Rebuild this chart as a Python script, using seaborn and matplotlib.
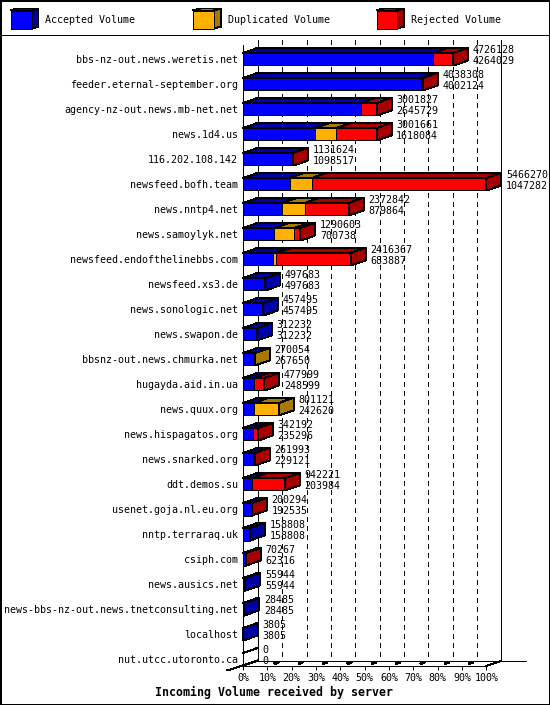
import pandas as pd
import numpy as np
import matplotlib
matplotlib.use("Agg")
import matplotlib.pyplot as plt
import seaborn as sns

# data
servers = ["bbs-nz-out.news.weretis.net", "feeder.eternal-september.org", "agency-nz-out.news.mb-net.net",
           "news.1d4.us", "116.202.108.142", "newsfeed.bofh.team", "news.nntp4.net", "news.samoylyk.net",
           "newsfeed.endofthelinebbs.com", "newsfeed.xs3.de", "news.sonologic.net", "news.swapon.de",
           "bbsnz-out.news.chmurka.net", "hugayda.aid.in.ua", "news.quux.org", "news.hispagatos.org",
           "news.snarked.org", "ddt.demos.su", "usenet.goja.nl.eu.org", "nntp.terraraq.uk", "csiph.com",
           "news.ausics.net", "news-bbs-nz-out.news.tnetconsulting.net", "localhost", "nut.utcc.utoronto.ca"]
total = [4726128, 4038308, 3001827, 3001661, 1131624, 5466270, 2372842, 1290603, 2416367, 497683, 457495, 312232,
         270054, 477999, 801121, 342192, 261993, 942221, 200294, 158808, 70267, 55944, 28485, 3805, 0]
accepted = [4264029, 4002124, 2645729, 1618084, 1098517, 1047282, 879864, 700738, 683887, 497683, 457495, 312232,
            267650, 248599, 242620, 235296, 229121, 203984, 192535, 158808, 62316, 55944, 28485, 3805, 0]
duplicated = [0, 0, 0, 477000, 0, 495000, 505000, 452000, 65000, 0, 0, 0,
              2404, 0, 558501, 0, 0, 0, 0, 0, 0, 0, 0, 0, 0]

tick_pct = list(range(0, 101, 10))
legend_names = ["Accepted Volume", "Duplicated Volume", "Rejected Volume"]

BLUE, ORANGE, RED = "#0000ff", "#ffb000", "#ff0000"
DBLUE, DORANGE, DRED = "#0000a8", "#a87800", "#a80000"
LW = 0.72  # one pixel at 100 dpi

sns.set_style("white")
plt.rcParams["font.family"] = "DejaVu Sans Mono"
plt.rcParams["font.size"] = 7.2

df = pd.DataFrame({"server": servers, "total": total, "accepted": accepted, "duplicated": duplicated})
df["upto_dup"] = df["accepted"] + df["duplicated"]
xmax = df["total"].max()

fig = plt.figure(figsize=(5.5, 7.05), dpi=100)

# main axes sits on the front plane of the fake 3d box
ax = fig.add_axes([243 / 550, 1 - 666 / 705, 243.4 / 550, 631 / 705])
ax.patch.set_alpha(0)

# stacked look: longest first, shorter ones on top
for col, c in [("total", RED), ("upto_dup", ORANGE), ("accepted", BLUE)]:
    sns.barplot(data=df, x=col, y="server", color=c, saturation=1, width=0.5,
                edgecolor="black", linewidth=LW, ax=ax, zorder=3)
for p in ax.patches:
    p.set_antialiased(False)

ax.set_xlim(0, xmax)
ax.set_ylim(24.27, -0.97)
ax.set_xlabel("")
ax.set_ylabel("")
sns.despine(ax=ax, left=True, bottom=True, top=True, right=True)

px = xmax / 243.4
row = 1 / 25
dx = 15 * px
dy = 5.2 * row
half = 0.25


def poly(xs, ys, fc, z=3):
    ax.fill(xs, ys, facecolor=fc, edgecolor="black", linewidth=LW, clip_on=False, zorder=z, antialiased=False)


def seg(xa, ya, xb, yb, z=1, **kw):
    kw.setdefault("color", "black")
    kw.setdefault("linewidth", LW)
    ax.plot([xa, xb], [ya, yb], clip_on=False, zorder=z, antialiased=False, **kw)


# top and side faces
for i, s in df.iterrows():
    t = s["total"]
    top = i - half
    bot = i + half
    parts = [(0, s["accepted"], DBLUE), (s["accepted"], s["upto_dup"], DORANGE), (s["upto_dup"], t, DRED)]
    last = "none"
    for a, b, c in parts:
        if b > a:
            poly([a, a + dx, b + dx, b], [top, top - dy, top - dy, top], c)
            last = c
    if t == 0:
        seg(0, top, dx, top - dy, z=2)
        seg(0, bot, dx, bot - dy, z=2)
    else:
        poly([t, t + dx, t + dx, t], [top, top - dy, bot - dy, bot], last)
    # totals and accepted next to the bar end
    ax.text(t + dx + 4.5 * px, i - 9.3 * row, f"{s['total']}", va="center", ha="left", zorder=5, color="black")
    ax.text(t + dx + 4.5 * px, i + 1.3 * row, f"{s['accepted']}", va="center", ha="left", zorder=5, color="black")

# back wall and floor
y_top = -0.76
y_back = 24.27 - 5.2 * row
y_front = 24.27
seg(dx, y_top, dx, y_back)
seg(xmax + dx, y_top, xmax + dx, y_back)
seg(0, y_top + 0.2, 0, y_front, z=2)
seg(dx, y_back, xmax + 40 * px, y_back)
seg(0, y_front, xmax, y_front)
seg(-16 * px, y_front + 4.5 * row, dx, y_back)
seg(xmax, y_front, xmax + dx, y_back)
for k in tick_pct[1:-1]:
    xk = xmax * k / 100
    ax.vlines(xk + dx, y_top, y_back, colors="black", linewidth=LW, linestyles=(0, (5, 5)), zorder=1, antialiased=False)
    seg(xk + 0.5 * dx, y_front - 0.5 * dy, xk + 0.72 * dx, y_front - 0.72 * dy, linewidth=1.4)

ax.set_xticks([xmax * k / 100 for k in tick_pct])
ax.set_xticklabels([f"{k}%" for k in tick_pct])
ax.tick_params(axis="x", length=2.9, width=LW, color="black", pad=2.2, labelsize=7.2, bottom=True)
ax.tick_params(axis="y", length=0, pad=3.6, labelsize=7.2, labelcolor="black")
ax.tick_params(axis="x", labelcolor="black")
ax.set_xlabel("Incoming Volume received by server", fontweight="bold", fontsize=8.4, va="center", color="black")
ax.xaxis.set_label_coords((274 - 243) / 243.4, -26 / 631)

# overlay in pixel coords for the outer frame and the legend
ov = fig.add_axes([0, 0, 1, 1])
ov.set_xlim(0, 550)
ov.set_ylim(705, 0)
ov.axis("off")
ov.patch.set_alpha(0)
ov.plot([0.5, 549.5, 549.5, 0.5, 0.5], [0.5, 0.5, 704.5, 704.5, 0.5], color="black", linewidth=1.44, antialiased=False)
ov.plot([0, 550], [35, 35], color="black", linewidth=LW, antialiased=False)
for x0, x1, front, dark, tx, name in zip([10.5, 193, 376.5], [31.5, 214, 397], [BLUE, ORANGE, RED],
                                         [DBLUE, DORANGE, DRED], [45, 228, 411], legend_names):
    ov.fill([x0, x0 + 7, x1 + 7, x1], [10.5, 8.5, 8.5, 10.5], facecolor=dark, edgecolor="black", linewidth=LW, antialiased=False)
    ov.fill([x1, x1 + 7, x1 + 7, x1], [10.5, 8.5, 26.5, 28.5], facecolor=dark, edgecolor="black", linewidth=LW, antialiased=False)
    ov.fill([x0, x1, x1, x0], [10.5, 10.5, 28.5, 28.5], facecolor=front, edgecolor="black", linewidth=LW, antialiased=False)
    ov.text(tx, 20, name, va="center", ha="left", color="black")

fig.savefig("out.png", dpi=100)
